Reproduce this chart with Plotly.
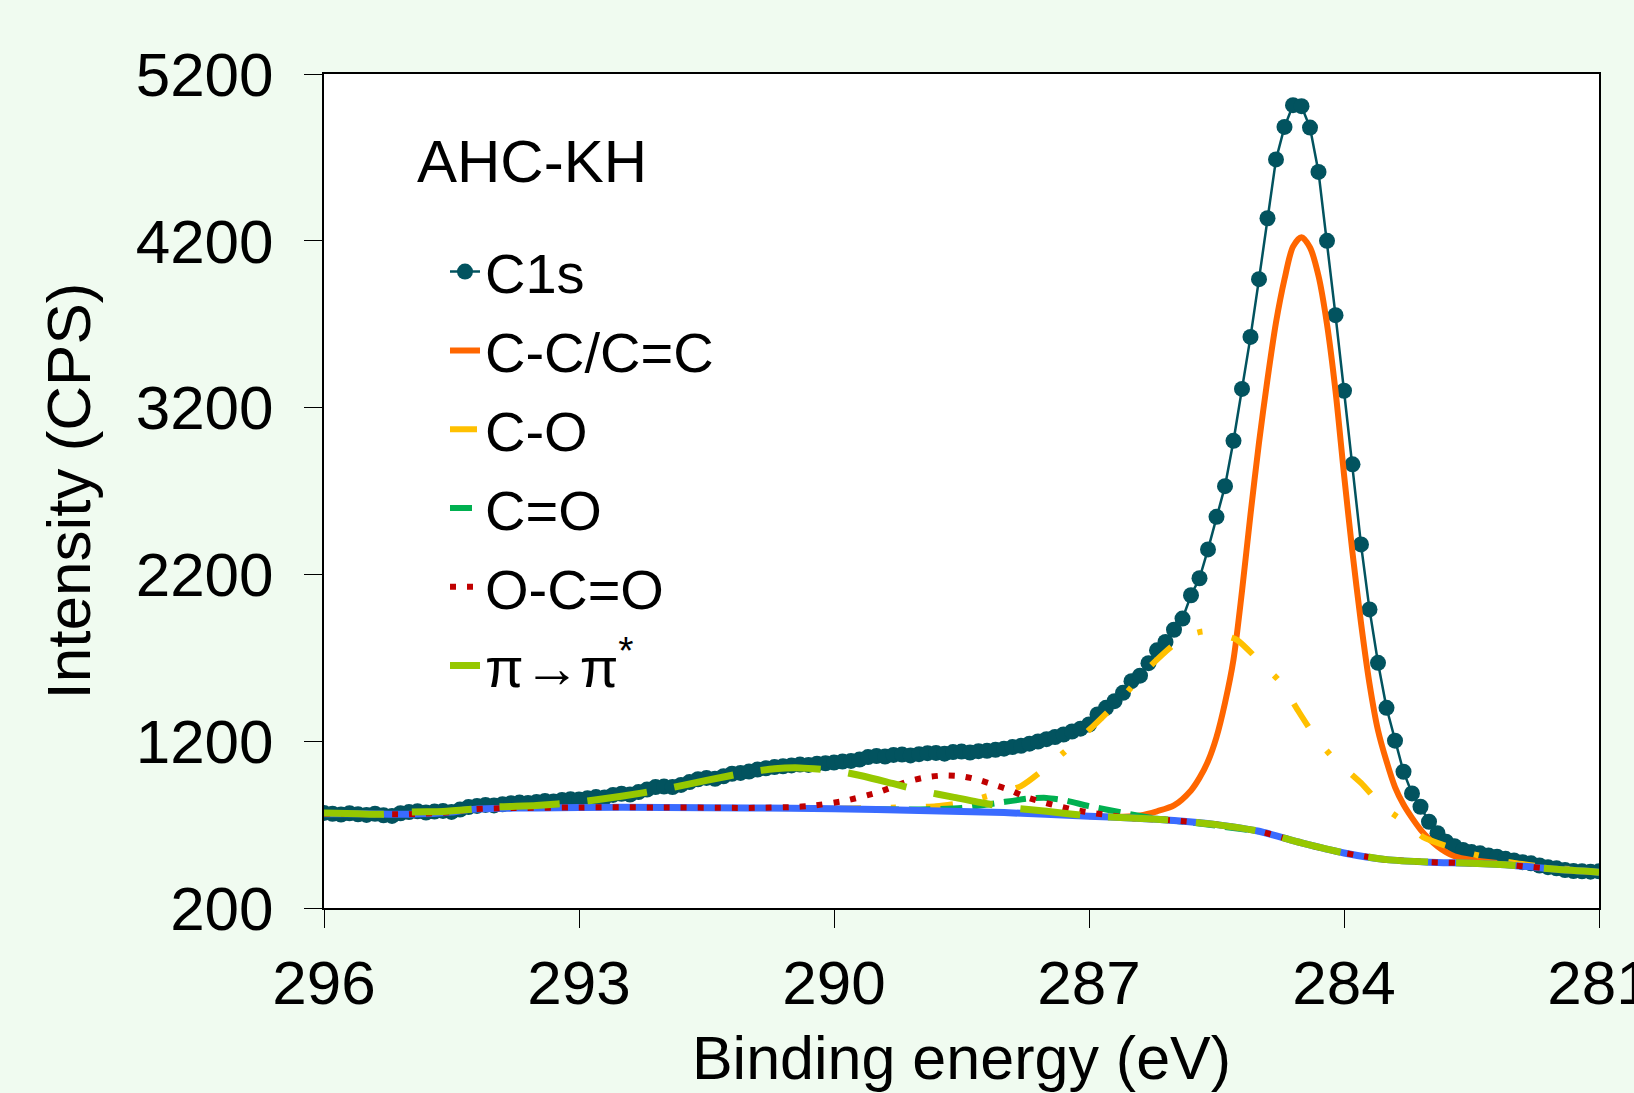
import plotly.graph_objects as go

# ---------------- data ----------------
c1s_energy = [round(296.0 - 0.1 * i, 1) for i in range(151)]
c1s_intensity = [
    770, 765, 760, 768, 762, 758, 765, 756, 752, 768,   # 296.0 - 295.1
    775, 780, 772, 778, 782, 776, 790, 805, 812, 818,   # 295.0 - 294.1
    815, 822, 828, 832, 830, 836, 842, 838, 848, 852,   # 294.0 - 293.1
    850, 858, 865, 862, 878, 885, 880, 895, 910, 925,   # 293.0 - 292.1
    928, 925, 938, 955, 972, 980, 975, 990, 1005, 1010, # 292.0 - 291.1
    1018, 1030, 1038, 1045, 1050, 1055, 1060, 1058, 1065, 1068,  # 291.0 - 290.1
    1072, 1078, 1082, 1090, 1105, 1112, 1108, 1118, 1120, 1115,  # 290.0 - 289.1
    1122, 1128, 1130, 1125, 1135, 1138, 1132, 1140, 1142, 1148,  # 289.0 - 288.1
    1155, 1165, 1172, 1185, 1198, 1212, 1225, 1240, 1258, 1275,  # 288.0 - 287.1
    1300, 1360, 1400, 1440, 1490, 1560, 1593, 1668, 1745, 1795,  # 287.0 - 286.1
    1868, 1935, 2075, 2177, 2350, 2545, 2729, 3001, 3312, 3624,  # 286.0 - 285.1
    3970, 4335, 4688, 4883, 5013, 5007, 4879, 4613, 4200, 3754,  # 285.0 - 284.1
    3301, 2860, 2380, 1990, 1670, 1400, 1203, 1017, 887, 807,    # 284.0 - 283.1
    717, 648, 597, 570, 548, 535, 528, 515, 508, 495,            # 283.0 - 282.1
    485, 475, 468, 455, 445, 438, 428, 422, 420, 418,            # 282.0 - 281.1
    420,                                                         # 281.0
]

cc_energy = [287.0, 286.6, 286.4, 286.2, 286.0, 285.8, 285.7, 285.6, 285.5, 285.4,
             285.3, 285.2, 285.1, 285.0, 284.9, 284.8, 284.7, 284.6, 284.5, 284.4,
             284.3, 284.2, 284.1, 284.0, 283.9, 283.8, 283.7, 283.6, 283.5, 283.4,
             283.3, 283.2, 283.1, 283.0, 282.9, 282.8, 282.7, 282.5, 282.2]
cc_intensity = [750, 747, 755, 780, 815, 905, 980, 1080, 1225, 1430,
                1690, 2100, 2560, 2990, 3370, 3710, 3970, 4165, 4222, 4160,
                3990, 3700, 3300, 2800, 2330, 1910, 1545, 1265, 1080, 925,
                820, 740, 670, 615, 570, 535, 510, 488, 470]

co_energy = [290.0, 289.5, 289.0, 288.8, 288.5, 288.2, 287.8, 287.4, 287.0, 286.6,
             286.3, 286.0, 285.8, 285.65, 285.5, 285.26, 285.0, 284.75, 284.55, 284.34,
             284.13, 283.8, 283.55, 283.27, 283.07, 282.52, 282.0, 281.5, 281.0]
co_intensity = [795, 800, 805, 810, 830, 870, 931, 1087, 1267, 1467,
                1640, 1780, 1840, 1858, 1845, 1808, 1682, 1555, 1391, 1227,
                1101, 950, 811, 710, 625, 528, 470, 440, 420]

cdo_energy = [289.5, 289.0, 288.5, 288.1, 287.7, 287.5, 287.3, 287.0, 286.6, 286.2, 285.8, 285.0]
cdo_intensity = [792, 790, 800, 828, 857, 860, 847, 811, 771, 735, 712, 660]

bg_energy = [296.0, 295.5, 295.0, 294.5, 294.3, 294.0, 293.5, 293.0, 292.0, 291.0,
             290.0, 289.0, 288.0, 287.0, 286.5, 286.0, 285.5, 285.0, 284.5, 284.0,
             283.5, 283.0, 282.5, 282.0, 281.5, 281.0]
bg_intensity = [765, 765, 762, 775, 790, 797, 800, 803, 803, 800,
                795, 785, 772, 750, 740, 725, 700, 660, 590, 530,
                490, 475, 468, 455, 432, 415]

ococ_energy = [296.0, 295.0, 294.5, 294.3, 294.0, 293.0, 292.0, 291.0, 290.87, 290.5,
               290.26, 289.87, 289.5, 289.1, 288.9, 288.7, 288.5, 288.32, 288.13, 287.93,
               287.75, 287.56, 287.36, 287.16, 286.97, 286.77, 286.5, 286.0, 285.5, 285.0,
               284.5, 284.0, 283.5, 283.0, 282.5, 282.0, 281.5, 281.0]
ococ_intensity = [765, 762, 775, 790, 797, 803, 803, 800, 801, 805,
                  813, 843, 891, 963, 985, 995, 990, 971, 941, 907,
                  867, 837, 811, 787, 771, 757, 740, 725, 700, 660,
                  590, 530, 490, 475, 468, 455, 432, 415]

pi_energy = [296.0, 295.6, 295.3, 295.0, 294.6, 294.3, 294.0, 293.5, 293.0, 292.5,
             292.0, 291.5, 291.0, 290.7, 290.4, 290.0, 289.65, 289.3, 288.95, 288.6,
             288.2, 287.87, 287.5, 287.0, 286.5, 286.0, 285.5, 285.0, 284.5, 284.0,
             283.5, 283.0, 282.5, 282.0, 281.5, 281.0]
pi_intensity = [770, 765, 762, 775, 778, 790, 805, 815, 835, 870,
                912, 965, 1015, 1035, 1040, 1025, 990, 945, 900, 865,
                825, 798, 780, 752, 740, 725, 700, 660, 590, 530,
                490, 475, 468, 455, 432, 415]

x_ticks = [296, 293, 290, 287, 284, 281]
y_ticks = [200, 1200, 2200, 3200, 4200, 5200]

# ---------------- figure ----------------
FONT = "Arial, 'Liberation Sans', sans-serif"
fig = go.Figure()

fig.add_trace(go.Scatter(
    x=c1s_energy, y=c1s_intensity, name="C1s", mode="lines+markers",
    line=dict(color="#02535F", width=2.5),
    marker=dict(color="#02535F", size=16),
    legendgroup="a"))
fig.add_trace(go.Scatter(
    x=cc_energy, y=cc_intensity, name="C-C/C=C", mode="lines",
    line=dict(color="#FF6600", width=6, shape="spline", smoothing=0.8),
    legendgroup="b"))
fig.add_trace(go.Scatter(
    x=co_energy, y=co_intensity, name="C-O", mode="lines",
    line=dict(color="#FFC000", width=6, shape="spline", smoothing=0.6,
              dash="27px,30px,5px,30px"),
    legendgroup="c"))
fig.add_trace(go.Scatter(
    x=cdo_energy, y=cdo_intensity, name="C=O", mode="lines",
    line=dict(color="#00B050", width=6, shape="spline", smoothing=0.6,
              dash="22px,10px"),
    legendgroup="d"))
fig.add_trace(go.Scatter(
    x=bg_energy, y=bg_intensity, name="Background", mode="lines",
    line=dict(color="#3A6BFF", width=7, shape="spline", smoothing=0.6),
    showlegend=False))
fig.add_trace(go.Scatter(
    x=ococ_energy, y=ococ_intensity, name="O-C=O", mode="lines",
    line=dict(color="#C00000", width=6, shape="spline", smoothing=0.6,
              dash="6px,11px"),
    legendgroup="e"))
fig.add_trace(go.Scatter(
    x=pi_energy, y=pi_intensity, name="π→π<sup>*</sup>", mode="lines",
    line=dict(color="#96C800", width=7, shape="spline", smoothing=0.6,
              dash="60px,28px"),
    legendgroup="f"))

fig.add_annotation(
    text="AHC-KH", xref="paper", yref="paper", x=0.0714, y=0.895,
    xanchor="left", yanchor="middle", showarrow=False,
    font=dict(family=FONT, size=60, color="black"))

fig.update_layout(
    width=1634, height=1093,
    margin=dict(l=324, r=35, t=74, b=185, autoexpand=False),
    paper_bgcolor="#F0FBF0", plot_bgcolor="white",
    font=dict(family=FONT, color="black"),
    showlegend=True,
    legend=dict(x=0.0949, y=0.8145, xanchor="left", yanchor="top",
                bgcolor="rgba(0,0,0,0)", borderwidth=0,
                font=dict(family=FONT, size=56, color="black"),
                tracegroupgap=3),
    xaxis=dict(range=[296, 281], tickvals=x_ticks, ticktext=[str(v) for v in x_ticks],
               showgrid=False, zeroline=False, showline=True, linecolor="black",
               linewidth=2, mirror=True, ticks="outside", ticklen=18, tickwidth=1,
               tickcolor="black", tickfont=dict(family=FONT, size=62),
               ticklabeloverflow="allow", ticklabelstandoff=2, automargin=False,
               title=dict(text="Binding energy (eV)", font=dict(family=FONT, size=61),
                          standoff=20)),
    yaxis=dict(range=[200, 5200], tickvals=y_ticks, ticktext=[str(v) for v in y_ticks],
               showgrid=False, zeroline=False, showline=True, linecolor="black",
               linewidth=2, mirror=True, ticks="outside", ticklen=18, tickwidth=1,
               tickcolor="black", tickfont=dict(family=FONT, size=62),
               ticklabelstandoff=18, automargin=False,
               title=dict(text="Intensity (CPS)", font=dict(family=FONT, size=62),
                          standoff=25)),
)

fig.write_html("out.html")
